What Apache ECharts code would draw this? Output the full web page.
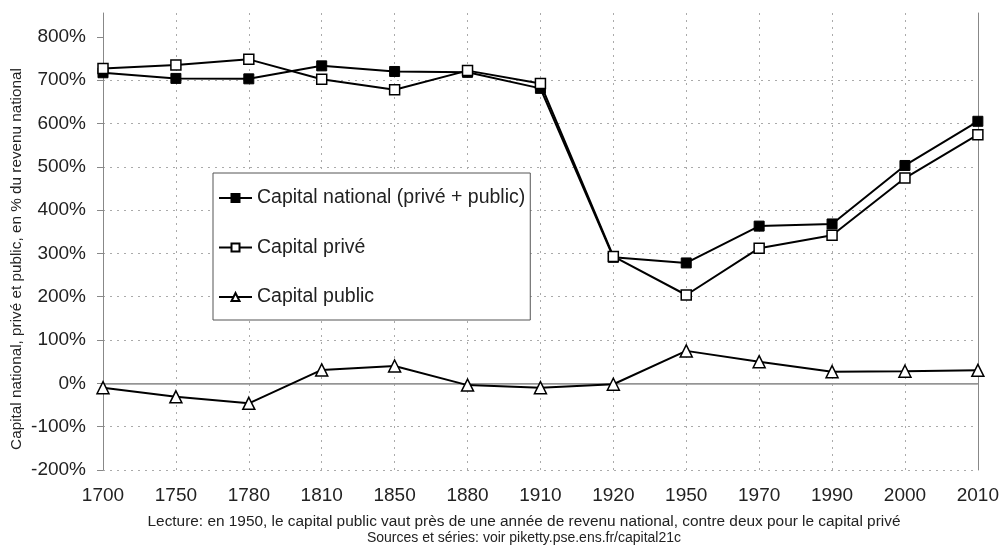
<!DOCTYPE html>
<html>
<head>
<meta charset="utf-8">
<title>Capital national, prive et public</title>
<script src="https://cdn.jsdelivr.net/npm/echarts@6/dist/echarts.min.js"></script>
<style>
  body { margin: 0; background: #fff; }
  #chart1 { width: 1002px; height: 545px; }
</style>
</head>
<body>
<div id="chart1"></div>
<script>
// years on the x axis (evenly spaced categories)
let years = ['1700', '1750', '1780', '1810', '1850', '1880', '1910', '1920', '1950', '1970', '1990', '2000', '2010']
// values in % of national income
let capitalNational = [717, 704, 703, 733, 720, 718, 681, 291, 278, 363, 368, 503, 605]
let capitalPrive = [727, 735, 748, 702, 678, 722, 692, 293, 204, 312, 342, 474, 574]
let capitalPublic = [-10, -31, -46, 31, 40, -4, -10, -2, 75, 50, 27, 28, 30]
let yTicks = [-200, -100, 0, 100, 200, 300, 400, 500, 600, 700, 800]

let seriesNames = ['Capital national (privé + public)', 'Capital privé', 'Capital public']
let font = '"Liberation Sans", Arial, sans-serif'

function drawChart(id) {
  var ele = document.getElementById(id)
  var myChart = echarts.init(ele, null, { renderer: 'canvas' })
  var lineStyle = { color: '#000', width: 2 }
  var option = {
    animation: false,
    textStyle: { fontFamily: font },
    grid: { left: 103, right: 22, top: 13, bottom: 75 },
    legend: {
      orient: 'vertical',
      left: 213,
      top: 173,
      padding: [15, 5, 13, 5],
      itemGap: 29.5,
      itemWidth: 33,
      itemHeight: 10,
      backgroundColor: '#fff',
      borderColor: '#555',
      borderWidth: 1,
      textStyle: { fontSize: 19.5, color: '#222', fontFamily: font },
      data: seriesNames
    },
    xAxis: {
      type: 'category',
      data: years,
      boundaryGap: false,
      axisLine: { lineStyle: { color: '#888', width: 1 } },
      axisTick: { show: false },
      axisLabel: { fontSize: 19, color: '#222', margin: 16, fontFamily: font },
      splitLine: { show: true, lineStyle: { color: '#aaa', type: [2, 5], width: 1 } }
    },
    yAxis: [
      {
        type: 'value',
        min: yTicks[0],
        max: 855,
        interval: 100,
        axisLine: { show: true, lineStyle: { color: '#888', width: 1 } },
        axisTick: { show: true, inside: false, length: 6, customValues: yTicks, lineStyle: { color: '#888' } },
        axisLabel: {
          fontSize: 19,
          color: '#222',
          margin: 17,
          fontFamily: font,
          customValues: yTicks,
          formatter: function (v) {
            return v + '%'
          }
        },
        splitLine: { show: true, showMaxLine: false, lineStyle: { color: '#aaa', type: [2, 5], width: 1 } }
      },
      {
        type: 'value',
        position: 'right',
        min: yTicks[0],
        max: 855,
        interval: 100,
        axisLine: { show: true, lineStyle: { color: '#888', width: 1 } },
        axisTick: { show: false },
        axisLabel: { show: false },
        splitLine: { show: false }
      }
    ],
    series: [
      {
        name: seriesNames[0],
        type: 'line',
        data: capitalNational,
        symbol: 'rect',
        symbolSize: 10,
        lineStyle: lineStyle,
        itemStyle: { color: '#000', borderColor: '#000', borderWidth: 1 },
        z: 3
      },
      {
        name: seriesNames[1],
        type: 'line',
        data: capitalPrive,
        symbol: 'rect',
        symbolSize: 10,
        lineStyle: lineStyle,
        itemStyle: { color: '#fff', borderColor: '#000', borderWidth: 1.5 },
        z: 4
      },
      {
        name: seriesNames[2],
        type: 'line',
        data: capitalPublic,
        symbol: 'triangle',
        symbolSize: 12,
        lineStyle: lineStyle,
        itemStyle: { color: '#fff', borderColor: '#000', borderWidth: 1.5 },
        z: 3,
        markLine: {
          silent: true,
          symbol: 'none',
          label: { show: false },
          lineStyle: { color: '#999', type: 'solid', width: 1.5 },
          data: [{ yAxis: 0 }],
          z: 1
        }
      }
    ],
    graphic: [
      {
        // y axis title, placed like the original (a bit below the plot centre)
        type: 'text',
        x: 17,
        y: 259,
        rotation: Math.PI / 2,
        style: {
          text: 'Capital national, privé et public, en % du revenu national',
          font: '15.3px ' + font,
          fill: '#222',
          textAlign: 'center',
          textVerticalAlign: 'middle'
        }
      },
      {
        type: 'text',
        x: 524,
        y: 522,
        style: {
          text: 'Lecture: en 1950, le capital public vaut près de une année de revenu national, contre deux pour le capital privé',
          font: '15.4px ' + font,
          fill: '#222',
          textAlign: 'center',
          textVerticalAlign: 'middle'
        }
      },
      {
        type: 'text',
        x: 524,
        y: 538,
        style: {
          text: 'Sources et séries: voir piketty.pse.ens.fr/capital21c',
          font: '14px ' + font,
          fill: '#222',
          textAlign: 'center',
          textVerticalAlign: 'middle'
        }
      }
    ]
  }
  myChart.setOption(option)
  window.addEventListener('resize', myChart.resize)
}

drawChart('chart1')
</script>
</body>
</html>
